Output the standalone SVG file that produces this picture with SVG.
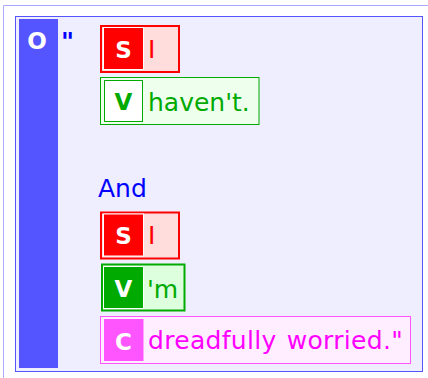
<svg xmlns="http://www.w3.org/2000/svg" width="428" height="378" viewBox="0 0 428 378">
<style>
.lbl{font-family:"DejaVu Sans",Verdana,sans-serif;font-weight:bold;font-size:23px;fill:#ffffff;text-anchor:middle}
.txt{font-family:"DejaVu Sans",Verdana,sans-serif;font-size:25px}
.sbox{fill:#ffdddd;stroke:#ff0000;stroke-width:2}
.stag{fill:#ff0000;stroke:#ffffff;stroke-width:1}
</style>
<rect width="428" height="378" fill="#ffffff"/>
<path d="M3.5,378 V5.5 H428" fill="none" stroke="#aaaaff" stroke-width="1"/>
<g id="clause">
<rect x="15.5" y="16.5" width="407" height="355" fill="#eeeeff" stroke="#5555ff" stroke-width="1"/>
<rect x="19" y="19" width="39" height="349" fill="#5555ff"/>
<text class="lbl" x="37" y="48.5">O</text>
<text class="txt" x="61" y="50" fill="#0000ff" font-weight="bold" font-size="24">"</text>
<text class="txt" x="98" y="196.5" fill="#0000ff" font-size="24">And</text>
</g>
<g id="s1">
<rect class="sbox" x="101" y="26" width="78" height="46"/>
<rect class="stag" x="103.5" y="27.5" width="40" height="42"/>
<text class="lbl" x="123.5" y="57.7">S</text>
<text class="txt" x="148" y="57.5" fill="#ff0000">I</text>
</g>
<g id="v1">
<rect x="100.5" y="77.5" width="158.5" height="47" fill="#eeffee" stroke="#00aa00" stroke-width="1"/>
<rect x="104.5" y="80.5" width="38" height="41" fill="#ffffff" stroke="#00aa00" stroke-width="1"/>
<text class="lbl" x="123.5" y="110" style="fill:#00aa00">V</text>
<text class="txt" x="148" y="110.5" fill="#00aa00">haven't.</text>
</g>
<g id="s2">
<rect class="sbox" x="101" y="212.5" width="78" height="46"/>
<rect class="stag" x="103.5" y="214" width="40" height="42"/>
<text class="lbl" x="123.5" y="244">S</text>
<text class="txt" x="148" y="244" fill="#ff0000">I</text>
</g>
<g id="v2">
<rect x="102" y="264.5" width="82.5" height="46" fill="#ddffdd" stroke="#00aa00" stroke-width="2"/>
<rect x="103.5" y="266.5" width="40" height="42" fill="#00aa00" stroke="#ffffff" stroke-width="1"/>
<text class="lbl" x="123.5" y="297">V</text>
<text class="txt" x="147" y="298" fill="#00aa00">'m</text>
</g>
<g id="c1">
<rect x="100.5" y="316.5" width="310" height="47" fill="#ffeeff" stroke="#ff55ff" stroke-width="1"/>
<rect x="104" y="319" width="39.5" height="42" fill="#ff55ff"/>
<text class="lbl" x="123.5" y="349.5">C</text>
<text class="txt" x="148" y="348.5" fill="#ff00ff" word-spacing="2" letter-spacing="0.3">dreadfully worried."</text>
</g>
<g id="connectors"></g>
</svg>
